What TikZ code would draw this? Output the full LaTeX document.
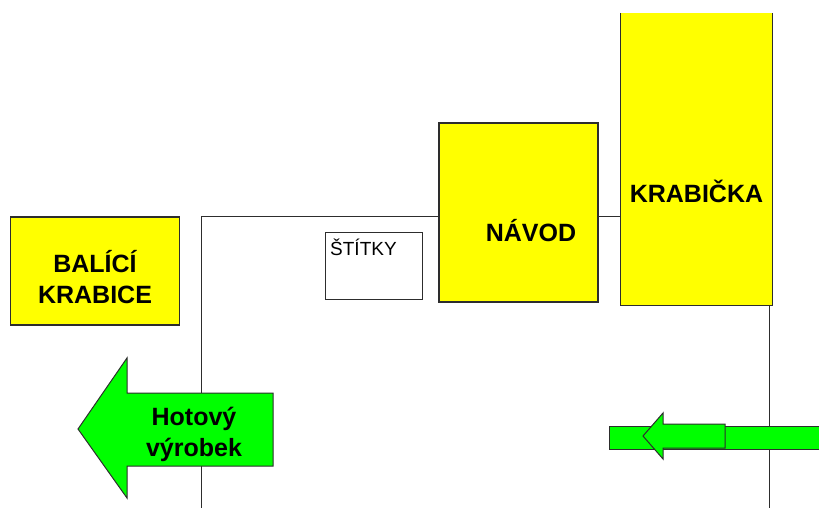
\documentclass[tikz,border=0pt]{standalone}
\usepackage{fontspec}
\setmainfont{Liberation Sans}
\usetikzlibrary{positioning,calc}
\definecolor{boxyellow}{RGB}{255,255,0}
\definecolor{arrowgreen}{RGB}{0,255,0}
\definecolor{edgegray}{RGB}{45,45,45}

\begin{document}
\begin{tikzpicture}[x=1pt,y=-1pt,
  ybox/.style={draw=edgegray,fill=boxyellow,line width=1.1pt,inner sep=0pt},
  wbox/.style={draw=edgegray,fill=white,line width=0.9pt,inner sep=0pt},
  lbl/.style={font=\fontsize{25}{31}\selectfont\bfseries,align=center,inner sep=0pt},
  small/.style={font=\fontsize{19}{22}\selectfont,inner sep=0pt},
  wire/.style={draw=edgegray,line width=0.9pt},
  garrow/.style={draw=edgegray,fill=arrowgreen,line width=1pt,line join=miter}]
\useasboundingbox (0,0) rectangle (819,508);
% boxes
\node[ybox,minimum width=169,minimum height=108] (balici) at (95,271) {};
\node[ybox,minimum width=159,minimum height=179] (navod) at (518.5,212.5) {};
\node[fill=boxyellow,inner sep=0pt,minimum width=151,minimum height=292] (krab) at (696.5,159) {};
\draw[ybox,fill=none] (krab.north west) -- (krab.south west) -- (krab.south east) -- (krab.north east);
\node[wbox,minimum width=97,minimum height=67] (stitky) at (373.5,265.5) {};
% texts
\node[lbl] at (95,277) {BALÍCÍ\\KRABICE};
\node[lbl,anchor=base] at (531,241) {NÁVOD};
\node[lbl,anchor=base] at (696.5,202) {KRABIČKA};
\node[small,anchor=base west] at (330,255) {ŠTÍTKY};
% connecting lines
\coordinate (turn) at (201,216);
\coordinate (leftend) at (201,508);
\coordinate (rightend) at (769,508);
\draw[wire] (navod.west |- turn) -- (turn) -- (leftend);
\draw[wire] (navod.east |- turn) -- (krab.west |- turn);
\draw[wire] (rightend |- krab.south) -- (rightend);
% green arrows
\draw[garrow] (78,429) -- (127,358) -- (127,393) -- (273,393) -- (273,466) -- (127,466) -- (127,498) -- cycle;
\node[lbl] (hotovy) at (194,434) {Hotový\\výrobek};
\fill[arrowgreen] (609,426) rectangle (819,449);
\draw[garrow,fill=none] (819,426) -- (609,426) -- (609,449) -- (819,449);
\draw[garrow] (643,436) -- (663,413) -- (663,424) -- (725,424) -- (725,448) -- (663,448) -- (663,459) -- cycle;
\end{tikzpicture}
\end{document}
